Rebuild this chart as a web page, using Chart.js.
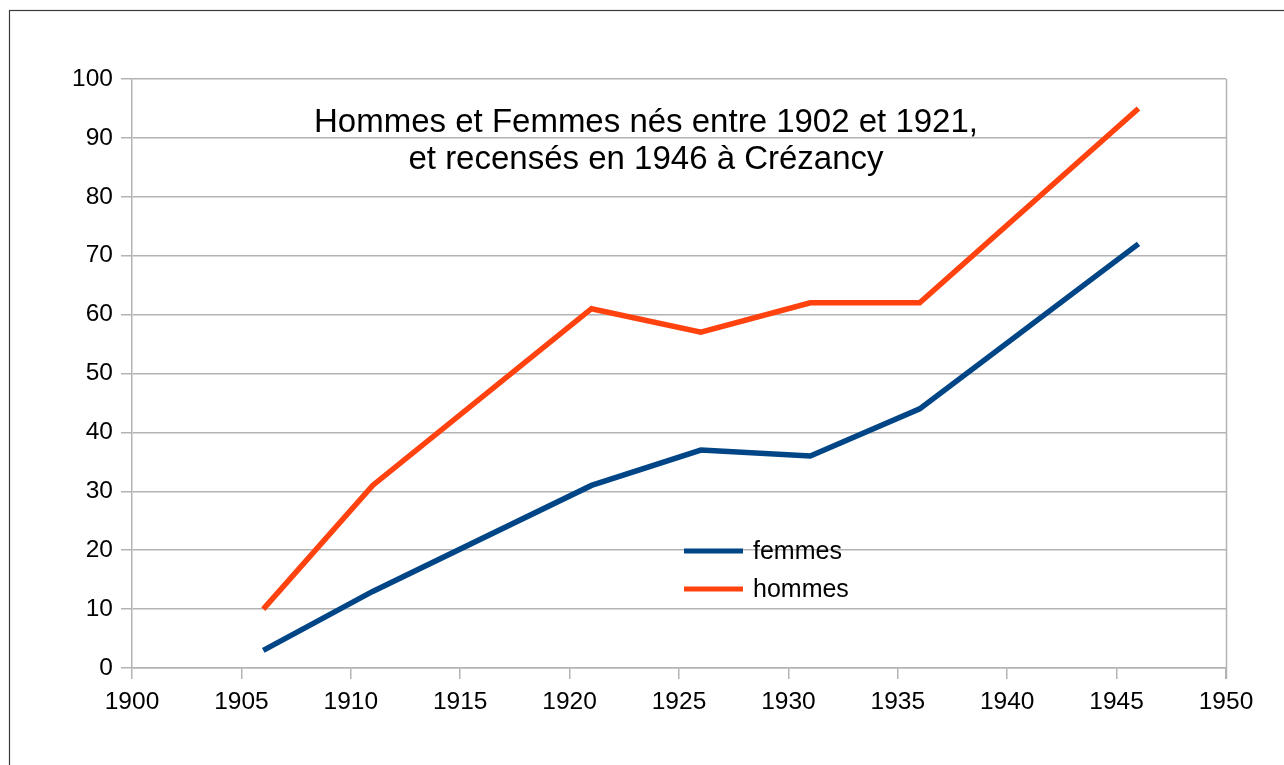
<!DOCTYPE html>
<html>
<head>
<meta charset="utf-8">
<script src="https://cdn.jsdelivr.net/npm/chart.js@4/dist/chart.umd.min.js"></script>
<style>
  html, body { margin: 0; padding: 0; background: #fff; }
  #wrap { width: 1284px; height: 765px; }
</style>
</head>
<body>
<div id="wrap"><canvas id="c" width="1284" height="765"></canvas></div>
<script>
const years = [1906, 1911, 1921, 1926, 1931, 1936, 1946];
const femmes = [3, 13, 31, 37, 36, 44, 72];
const hommes = [10, 31, 61, 57, 62, 62, 95];
const seriesLabels = ['femmes', 'hommes'];
const titleLines = ['Hommes et Femmes nés entre 1902 et 1921,', 'et recensés en 1946 à Crézancy'];
const xMin = 1900, xMax = 1950, xStep = 5;
const yMin = 0, yMax = 100, yStep = 10;

const FONT = '"Liberation Sans", Arial, sans-serif';
const GRID = '#b3b3b3';

const toPoints = vals => years.map((y, i) => ({ x: y, y: vals[i] }));

const framePlugin = {
  id: 'frame',
  beforeDraw(chart) {
    const ctx = chart.ctx;
    ctx.save();
    ctx.fillStyle = '#ffffff';
    ctx.fillRect(0, 0, chart.width, chart.height);
    ctx.strokeStyle = '#3a3a3a';
    ctx.lineWidth = 1.2;
    ctx.strokeRect(9.5, 10.5, chart.width + 20, chart.height + 20);
    ctx.restore();
  },
  beforeDatasetsDraw(chart) {
    const ctx = chart.ctx, a = chart.chartArea;
    ctx.save();
    ctx.strokeStyle = GRID;
    ctx.lineWidth = 1.5;
    ctx.beginPath();
    ctx.moveTo(Math.round(a.right) + 0.5, a.top);
    ctx.lineTo(Math.round(a.right) + 0.5, a.bottom + 11);
    ctx.stroke();
    ctx.restore();
  },
  afterDraw(chart) {
    const ctx = chart.ctx;
    ctx.save();
    // title
    ctx.fillStyle = '#000';
    ctx.font = '33px ' + FONT;
    ctx.textAlign = 'center';
    ctx.textBaseline = 'alphabetic';
    const cx = 646;
    ctx.fillText(titleLines[0], cx, 132);
    ctx.fillText(titleLines[1], cx, 169);
    // legend
    const items = chart.data.datasets;
    const lx = 684, ly = [551, 589];
    items.forEach((ds, i) => {
      ctx.strokeStyle = ds.borderColor;
      ctx.lineWidth = 5;
      ctx.beginPath();
      ctx.moveTo(lx, ly[i]);
      ctx.lineTo(lx + 59, ly[i]);
      ctx.stroke();
      ctx.fillStyle = '#000';
      ctx.font = '25px ' + FONT;
      ctx.textAlign = 'left';
      ctx.textBaseline = 'middle';
      ctx.fillText(ds.label, lx + 69, ly[i] + 1);
    });
    ctx.restore();
  }
};

new Chart(document.getElementById('c'), {
  type: 'line',
  data: {
    datasets: [
      { label: seriesLabels[0], data: toPoints(femmes), borderColor: '#004586', backgroundColor: '#004586', borderWidth: 5.5, pointRadius: 0, tension: 0, fill: false },
      { label: seriesLabels[1], data: toPoints(hommes), borderColor: '#ff420e', backgroundColor: '#ff420e', borderWidth: 5.5, pointRadius: 0, tension: 0, fill: false }
    ]
  },
  options: {
    responsive: false,
    animation: false,
    layout: { padding: { left: 32, top: 79, right: 58, bottom: 37 } },
    plugins: { legend: { display: false }, title: { display: false }, tooltip: { enabled: false } },
    scales: {
      x: {
        type: 'linear', min: xMin, max: xMax,
        afterFit: s => { s.height = 60; },
        ticks: { stepSize: xStep, color: '#000', font: { family: FONT, size: 24.5 }, padding: 9, maxRotation: 0, callback: v => String(v) },
        grid: { display: true, drawOnChartArea: false, drawTicks: true, tickLength: 11, color: GRID, lineWidth: 1.5 },
        border: { display: true, color: GRID, width: 1.5 }
      },
      y: {
        min: yMin, max: yMax,
        afterFit: s => { s.width = 100; },
        ticks: { stepSize: yStep, color: '#000', font: { family: FONT, size: 24.5 }, padding: 8 },
        grid: { display: true, drawTicks: true, tickLength: 11, color: GRID, lineWidth: 1.5 },
        border: { display: true, color: GRID, width: 1.5 }
      }
    }
  },
  plugins: [framePlugin]
});
</script>
</body>
</html>
